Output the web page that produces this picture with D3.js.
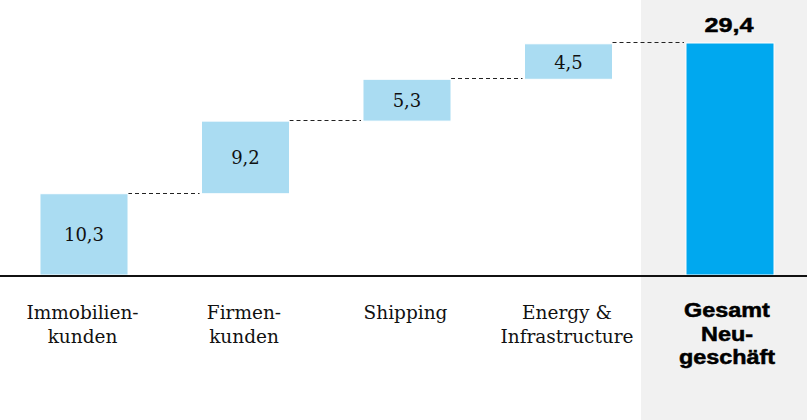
<!DOCTYPE html>
<html>
<head>
<meta charset="utf-8">
<script src="https://cdn.jsdelivr.net/npm/d3@7/dist/d3.min.js"></script>
<style>
  html, body { margin: 0; padding: 0; background: #ffffff; }
  svg { display: block; }
</style>
</head>
<body>
<svg id="chart" width="807" height="420"></svg>
<script>
// Neugeschäft nach Segmenten (Mrd. €) – Wasserfall
const categories = ["Immobilienkunden", "Firmenkunden", "Shipping", "Energy & Infrastructure", "Gesamt Neugeschäft"];
const labelLines = [
  ["Immobilien-", "kunden"],
  ["Firmen-", "kunden"],
  ["Shipping"],
  ["Energy &", "Infrastructure"],
  ["Gesamt", "Neu-", "geschäft"]
];
const segmentValues = [10.3, 9.2, 5.3, 4.5];
const totalValue = 29.4;

const W = 807, H = 420;
const baseY = 275, topY = 43;

const de = d3.formatLocale({ decimal: ",", thousands: ".", grouping: [3], currency: ["", " €"] });
const fmt = de.format(".1f");

const svg = d3.select("#chart");

const x = d3.scaleBand()
  .domain(categories)
  .range([3.25, 810.75])
  .paddingInner(0.455)
  .paddingOuter(0.2275);

const y = d3.scaleLinear()
  .domain([0, totalValue])
  .range([baseY, topY]);

const bw = x.bandwidth();
const totalCat = categories[categories.length - 1];

// highlighted background column behind the total
svg.append("rect")
  .attr("x", x(totalCat) - 45)
  .attr("y", 0)
  .attr("width", W - (x(totalCat) - 45))
  .attr("height", H)
  .attr("fill", "#f1f1f1");

// floating segment bars
let acc = 0;
const segs = segmentValues.map((v, i) => {
  const s = { cat: categories[i], start: acc, end: acc + v, value: v };
  acc += v;
  return s;
});

// dashed connectors between consecutive bars
const connectors = segs.map((s, i) => {
  const nextCat = categories[i + 1];
  const level = i === segs.length - 1 ? totalValue : s.end;
  return { x1: x(s.cat) + bw, x2: x(nextCat) - 2, level };
});

svg.append("g").selectAll("line")
  .data(connectors)
  .join("line")
  .attr("x1", d => d.x1)
  .attr("x2", d => d.x2)
  .attr("y1", d => Math.round(y(d.level)) - 0.5)
  .attr("y2", d => Math.round(y(d.level)) - 0.5)
  .attr("stroke", "#222")
  .attr("stroke-width", 1)
  .attr("stroke-dasharray", "4,3");

svg.append("g").selectAll("rect")
  .data(segs)
  .join("rect")
  .attr("x", d => x(d.cat))
  .attr("y", d => y(d.end))
  .attr("width", bw)
  .attr("height", d => y(d.start) - y(d.end))
  .attr("fill", "#aadcf2")
  .attr("stroke", "#ffffff")
  .attr("stroke-width", 1);

svg.append("rect")
  .attr("x", x(totalCat))
  .attr("y", y(totalValue))
  .attr("width", bw)
  .attr("height", y(0) - y(totalValue))
  .attr("fill", "#00a8ef")
  .attr("stroke", "#ffffff")
  .attr("stroke-width", 1);

// value labels inside the segment bars
svg.append("g").selectAll("text")
  .data(segs)
  .join("text")
  .attr("x", d => x(d.cat) + bw / 2)
  .attr("y", d => (y(d.start) + y(d.end)) / 2 + 7)
  .attr("text-anchor", "middle")
  .attr("font-family", "'DejaVu Serif', serif")
  .attr("font-size", 18)
  .attr("fill", "#111")
  .text(d => fmt(d.value));

// total label above the total bar
svg.append("text")
  .attr("transform", `translate(${x(totalCat) + bw / 2 - 1},${y(totalValue) - 11.5}) scale(1.2,1)`)
  .attr("text-anchor", "middle")
  .attr("font-family", "'Liberation Sans', Arial, sans-serif")
  .attr("font-weight", "bold")
  .attr("font-size", 21)
  .attr("fill", "#000")
  .attr("stroke", "#000")
  .attr("stroke-width", 0.5)
  .text(fmt(totalValue));

// baseline axis
const axis = d3.axisBottom(x).tickSize(0).tickFormat("");
const axisG = svg.append("g")
  .attr("transform", `translate(0,${baseY + 1})`)
  .call(axis);
axisG.select(".domain")
  .attr("d", `M0,0H${W}`)
  .attr("stroke", "#111")
  .attr("stroke-width", 2.2);

// category labels
const catG = svg.append("g");
categories.forEach((c, i) => {
  const isTotal = c === totalCat;
  const cx = x(c) + bw / 2;
  labelLines[i].forEach((line, j) => {
    const t = catG.append("text")
      .attr("text-anchor", "middle")
      .attr("fill", "#111")
      .text(line);
    if (isTotal) {
      t.attr("transform", `translate(${cx - 3},${317 + j * 23.5}) scale(1.2,1)`)
        .attr("font-family", "'Liberation Sans', Arial, sans-serif")
        .attr("font-weight", "bold")
        .attr("font-size", 19.5)
        .attr("fill", "#000")
        .attr("stroke", "#000")
        .attr("stroke-width", 0.5);
    } else {
      t.attr("x", cx - 1.5)
        .attr("y", 319 + j * 24)
        .attr("font-family", "'DejaVu Serif', serif")
        .attr("font-size", 18.5);
    }
  });
});
</script>
</body>
</html>
